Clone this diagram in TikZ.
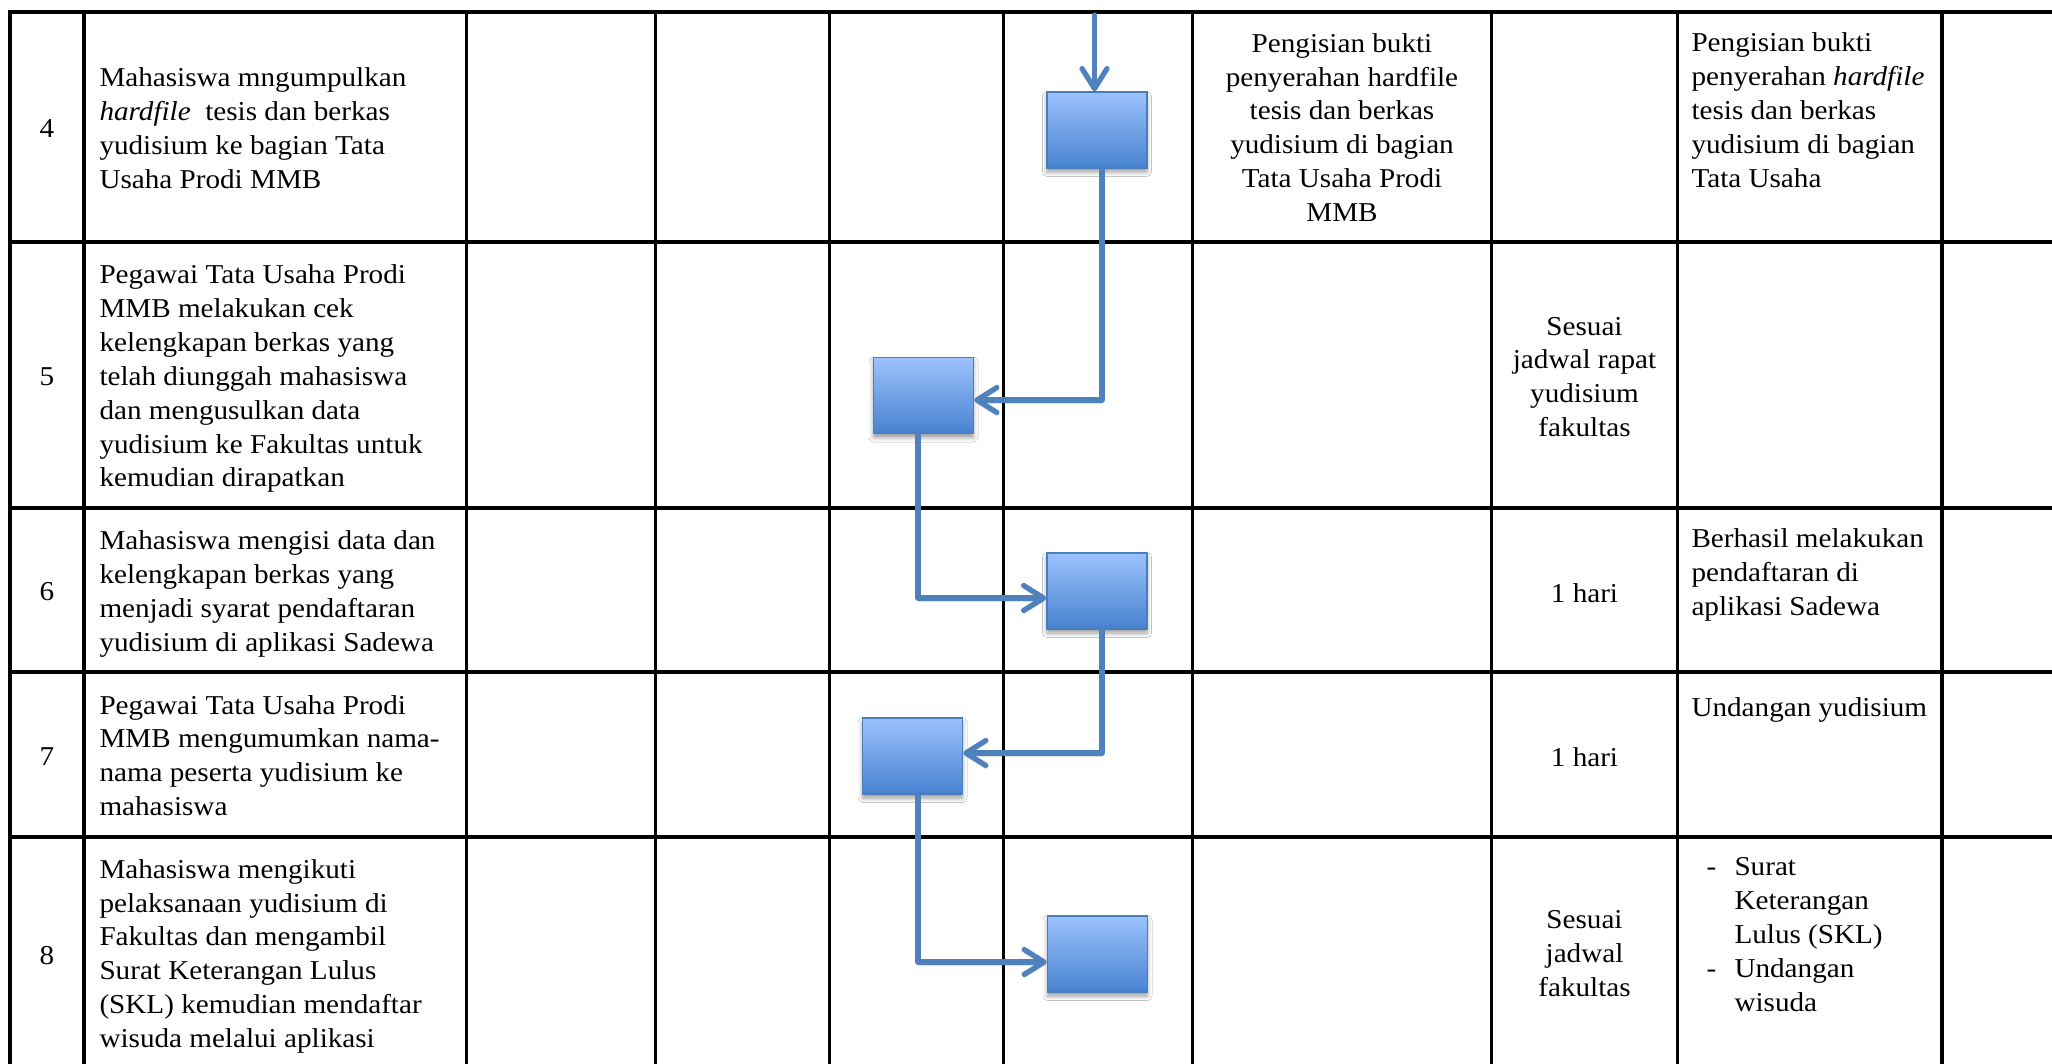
\documentclass[tikz,border=0pt]{standalone}
\usepackage{fontspec}
\setmainfont{Liberation Serif}[FakeStretch=1.07]
\usetikzlibrary{arrows.meta,calc,shadows.blur}
\definecolor{flowblue}{HTML}{4F81BD}
\definecolor{boxtop}{HTML}{9CC2FD}
\definecolor{boxbot}{HTML}{4782D0}
\definecolor{boxline}{HTML}{4A7EBB}
\begin{document}
\begin{tikzpicture}[x=0.4pt,y=-0.4pt,
  grid/.style={line width=1.35pt, black, line cap=rect},
  proc/.style={draw=boxline, line width=0.6pt, top color=boxtop, bottom color=boxbot,
    minimum width=40pt, minimum height=30.4pt, inner sep=0pt,
    blur shadow={shadow xshift=0pt, shadow yshift=-1.6pt, shadow blur radius=1.8pt, shadow opacity=40}},
  flow/.style={draw=flowblue, line width=2.1pt, line join=round, line cap=round,
    -{Straight Barb[length=8pt,width=10pt,line cap=round,line join=round]},
    preaction={draw=black, draw opacity=0.12, transform canvas={yshift=-1.3pt}}},
  txt/.style={inner sep=0pt, font=\fontsize{10.9}{13.55}\selectfont,
    execute at begin node=\strut, execute at end node=\strut},
  lefttxt/.style={txt, align=left, anchor=west},
  toptxt/.style={txt, align=left, anchor=north west},
  midtxt/.style={txt, align=center}
]
\useasboundingbox (0,0) rectangle (2052,1064);
\fill[white] (0,0) rectangle (2052,1064);
% table grid
\foreach \yy in {12,242,508,672,837} \draw[grid] (10,\yy) -- (2052,\yy);
\foreach \xx in {10,84,466.5,655.5,829.5,1003.5,1192.5,1491.5,1677.5,1942} \draw[grid] (\xx,12) -- (\xx,1064);

% step numbers
\node[txt] (n4) at (47,131) {4};
\node[txt] (n5) at (47,379) {5};
\node[txt] (n6) at (47,594) {6};
\node[txt] (n7) at (47,758.5) {7};
\node[txt] (n8) at (47,958) {8};

% activities
\node[lefttxt] (d4) at (99,133) {Mahasiswa mngumpulkan\\\textit{hardfile}\ \ tesis dan berkas\\yudisium ke bagian Tata\\Usaha Prodi MMB};
\node[lefttxt] (d5) at (99,381) {Pegawai Tata Usaha Prodi\\MMB melakukan cek\\kelengkapan berkas yang\\telah diunggah mahasiswa\\dan mengusulkan data\\yudisium ke Fakultas untuk\\kemudian dirapatkan};
\node[lefttxt] (d6) at (99,596) {Mahasiswa mengisi data dan\\kelengkapan berkas yang\\menjadi syarat pendaftaran\\yudisium di aplikasi Sadewa};
\node[lefttxt] (d7) at (99,760.5) {Pegawai Tata Usaha Prodi\\MMB mengumumkan nama-\\nama peserta yudisium ke\\mahasiswa};
\node[lefttxt] (d8) at (99,958.5) {Mahasiswa mengikuti\\pelaksanaan yudisium di\\Fakultas dan mengambil\\Surat Keterangan Lulus\\(SKL) kemudian mendaftar\\wisuda melalui aplikasi};

% requirements column
\node[midtxt] (k4) at (1342,132.5) {Pengisian bukti\\penyerahan hardfile\\tesis dan berkas\\yudisium di bagian\\Tata Usaha Prodi\\MMB};

% time column
\node[midtxt] (w5) at (1584.5,382) {Sesuai\\jadwal rapat\\yudisium\\fakultas};
\node[midtxt] (w6) at (1584.5,596) {1 hari};
\node[midtxt] (w7) at (1584.5,760) {1 hari};
\node[midtxt] (w8) at (1584.5,958.5) {Sesuai\\jadwal\\fakultas};

% output column
\node[toptxt] (o4) at (1691,32.3) {Pengisian bukti\\penyerahan \textit{hardfile}\\tesis dan berkas\\yudisium di bagian\\Tata Usaha};
\node[toptxt] (o6) at (1691,528.3) {Berhasil melakukan\\pendaftaran di\\aplikasi Sadewa};
\node[toptxt] (o7) at (1691,692.3) {Undangan yudisium};
\node[toptxt] (o8) at (1706,857.3) {\makebox[11.2pt][l]{-}Surat\\\hspace*{11.2pt}Keterangan\\\hspace*{11.2pt}Lulus (SKL)\\\makebox[11.2pt][l]{-}Undangan\\\hspace*{11.2pt}wisuda};

% process boxes
\node[proc] (A) at (1097,130) {};
\node[proc] (B) at (923.5,395.5) {};
\node[proc] (C) at (1097,591) {};
\node[proc] (D) at (912.5,756) {};
\node[proc] (E) at (1097.5,954) {};

% connectors
\coordinate (inA) at (1094.5,15);
\draw[flow] (inA) -- (inA |- A.north);
\draw[flow] ($(A.south)+(5,0)$) |- ($(B.east)+(0,4.5)$);
\draw[flow] ($(B.south)+(-5.5,0)$) |- ($(C.west)+(0,7)$);
\draw[flow] ($(C.south)+(5,0)$) |- ($(D.east)+(0,-3)$);
\draw[flow] ($(D.south)+(5.5,0)$) |- ($(E.west)+(0,8)$);
\end{tikzpicture}
\end{document}
